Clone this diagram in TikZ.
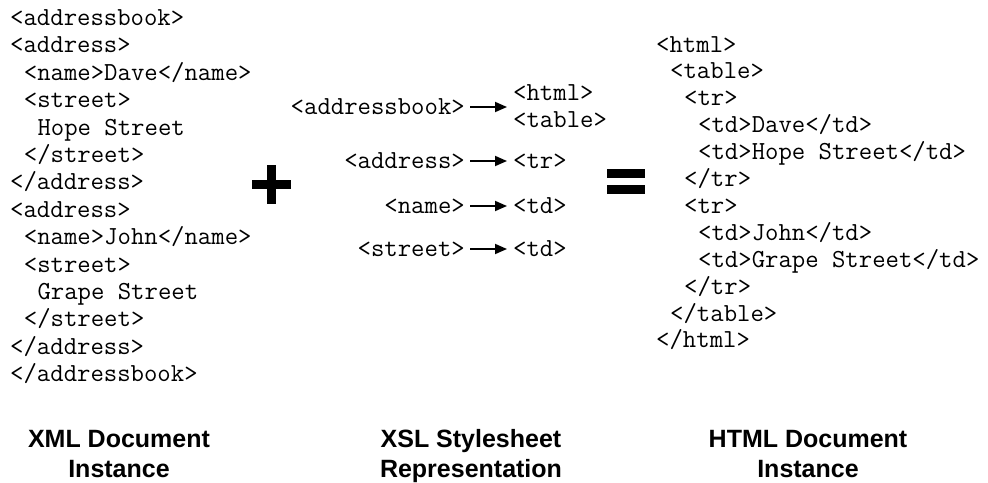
\documentclass[tikz,border=0pt]{standalone}
\usepackage{fontspec}
\setmainfont{Liberation Sans}
\usetikzlibrary{arrows.meta}
\begin{document}
\begin{tikzpicture}[x=1pt,y=-1pt,
  code/.style={font=\ttfamily\fontsize{26}{26}\selectfont, inner sep=0pt, anchor=base west, text height=17pt, text depth=3pt},
  rcode/.style={code, anchor=base east},
  arr/.style={line width=1.8pt, -{Triangle[length=12pt,width=10pt]}, shorten <=5pt, shorten >=6pt},
  caption/.style={font=\bfseries\fontsize{25}{30}\selectfont, inner sep=0pt, anchor=base},
  sign/.style={fill=black}]
\useasboundingbox (0,0) rectangle (988,482);
% XML document
\node[code] (l1)  at (10,25.5)    {<addressbook>};
\node[code] (l2)  at (10,52.9)    {<address>};
\node[code] (l3)  at (23.7,80.3)  {<name>Dave</name>};
\node[code] (l4)  at (23.7,107.7) {<street>};
\node[code] (l5)  at (37.3,135.1) {Hope Street};
\node[code] (l6)  at (23.7,162.5) {</street>};
\node[code] (l7)  at (10,189.9)   {</address>};
\node[code] (l8)  at (10,217.3)   {<address>};
\node[code] (l9)  at (23.7,244.7) {<name>John</name>};
\node[code] (l10) at (23.7,272.1) {<street>};
\node[code] (l11) at (37.3,299.5) {Grape Street};
\node[code] (l12) at (23.7,326.9) {</street>};
\node[code] (l13) at (10,354.3)   {</address>};
\node[code] (l14) at (10,381.7)   {</addressbook>};
% plus
\fill[sign] (266.7,165) rectangle (276.2,204);
\fill[sign] (252,180) rectangle (290.7,189.3);
% XSL stylesheet
\node[rcode] (ab)   at (465,114) {<addressbook>};
\node[code]  (html) at (513,100) {<html>};
\node[code]  (tab)  at (513,127) {<table>};
\node[rcode] (ad)   at (465,168) {<address>};
\node[code]  (tr)   at (513,168) {<tr>};
\node[rcode] (nm)   at (465,213) {<name>};
\node[code]  (td1)  at (513,213) {<td>};
\node[rcode] (st)   at (465,256) {<street>};
\node[code]  (td2)  at (513,256) {<td>};
\draw[arr] (ab.east) -- (ab.east -| html.west);
\draw[arr] (ad.east) -- (tr.west);
\draw[arr] (nm.east) -- (td1.west);
\draw[arr] (st.east) -- (td2.west);
% equals
\fill[sign] (606.7,169) rectangle (645.3,178.3);
\fill[sign] (606.7,184.7) rectangle (645.3,194.3);
% HTML document
\node[code] (r1)  at (656,52)    {<html>};
\node[code] (r2)  at (670,78.9)  {<table>};
\node[code] (r3)  at (684,105.8) {<tr>};
\node[code] (r4)  at (698,132.7) {<td>Dave</td>};
\node[code] (r5)  at (698,159.6) {<td>Hope Street</td>};
\node[code] (r6)  at (684,186.5) {</tr>};
\node[code] (r7)  at (684,213.4) {<tr>};
\node[code] (r8)  at (698,240.3) {<td>John</td>};
\node[code] (r9)  at (698,267.2) {<td>Grape Street</td>};
\node[code] (r10) at (684,294.1) {</tr>};
\node[code] (r11) at (670,321)   {</table>};
\node[code] (r12) at (656,347.9) {</html>};
% captions
\node[caption] (c1a) at (119,447) {XML Document};
\node[caption] (c1b) at (119,477) {Instance};
\node[caption] (c2a) at (471,447) {XSL Stylesheet};
\node[caption] (c2b) at (471,477) {Representation};
\node[caption] (c3a) at (808,447) {HTML Document};
\node[caption] (c3b) at (808,477) {Instance};
\end{tikzpicture}
\end{document}
